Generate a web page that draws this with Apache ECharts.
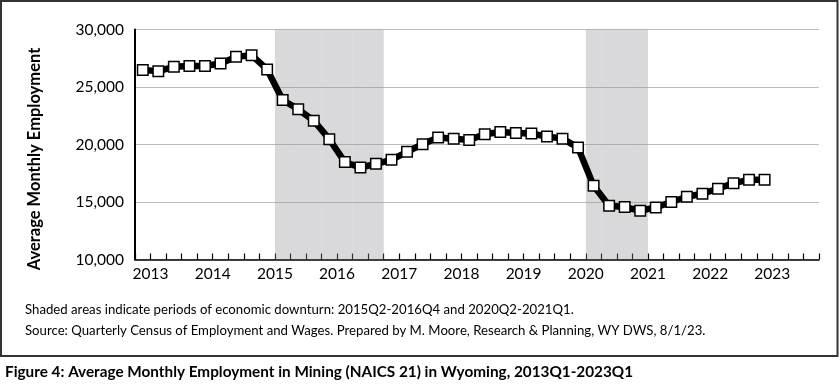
<!DOCTYPE html>
<html>
<head>
<meta charset="utf-8">
<script src="https://cdn.jsdelivr.net/npm/echarts@6/dist/echarts.min.js"></script>
<style>
html,body{margin:0;padding:0;background:#fff;}
#chart{width:840px;height:385px;}
</style>
</head>
<body>
<div id="chart"></div>
<script>
// Quarters 2013Q1 .. 2023Q4 (data through 2023Q1)
const years = [2013,2014,2015,2016,2017,2018,2019,2020,2021,2022,2023];
const quarters = [];
years.forEach(y => { for (let q = 1; q <= 4; q++) quarters.push(y + 'Q' + q); });

const employment = [
  26470, 26380, 26760, 26820, 26820, 27050, 27620, 27770,
  26530, 23870, 23060, 22070, 20460, 18470, 18000, 18320,
  18670, 19360, 20030, 20600, 20510, 20400, 20890, 21090,
  21010, 20950, 20690, 20510, 19730, 16410, 14670, 14560,
  14240, 14530, 15000, 15460, 15720, 16150, 16640, 16930,
  16930
];

const downturnQuarters = [
  '2015Q2','2015Q3','2015Q4','2016Q1','2016Q2','2016Q3','2016Q4',
  '2020Q2','2020Q3','2020Q4','2021Q1'
];

const yMin = 10000, yMax = 30000, yStep = 5000;

const yTitle = 'Average Monthly Employment';
const note1 = 'Shaded areas indicate periods of economic downturn: 2015Q2-2016Q4 and 2020Q2-2021Q1.';
const note2 = 'Source: Quarterly Census of Employment and Wages. Prepared by M. Moore, Research & Planning, WY DWS, 8/1/23.';
const caption = 'Figure 4: Average Monthly Employment in Mining (NAICS 21) in Wyoming, 2013Q1-2023Q1';

const shade = quarters.map(q => downturnQuarters.includes(q) ? yMax : null);

const FONT = 'Lato';
const chart = echarts.init(document.getElementById('chart'), null, {renderer: 'canvas'});
chart.setOption({
  animation: false,
  backgroundColor: '#fff',
  grid: {left: 135, right: 21, top: 29.5, bottom: 125.5, containLabel: false},
  xAxis: {
    type: 'category',
    data: quarters,
    boundaryGap: true,
    axisLine: {lineStyle: {color: '#000', width: 1.5}},
    axisTick: {show: true, inside: true, length: 6, interval: 0, lineStyle: {color: '#000', width: 1.2}},
    axisLabel: {
      interval: 3,
      formatter: v => v.slice(0, 4),
      fontFamily: FONT, fontSize: 15.5, color: '#000',
      margin: 6,
      padding: [0, 0, 0, 15.5]
    },
    splitLine: {show: false}
  },
  yAxis: {
    type: 'value',
    min: yMin, max: yMax, interval: yStep,
    axisLine: {show: true, lineStyle: {color: '#000', width: 2}},
    axisTick: {show: false},
    axisLabel: {
      formatter: v => v.toLocaleString('en-US'),
      fontFamily: FONT, fontSize: 15.5, color: '#000', margin: 11
    },
    splitLine: {lineStyle: {color: '#bcbcbc', width: 1.2}}
  },
  series: [
    {
      type: 'bar',
      data: shade,
      barWidth: '100%',
      barCategoryGap: '0%',
      itemStyle: {color: 'rgba(150,150,156,0.36)'},
      silent: true,
      z: 1
    },
    {
      type: 'line',
      data: employment,
      symbol: 'rect',
      symbolSize: 10.5,
      showAllSymbol: true,
      lineStyle: {color: '#000', width: 6.5},
      itemStyle: {color: '#fff', borderColor: '#000', borderWidth: 1.5},
      z: 3
    }
  ],
  graphic: [
    {type: 'rect', shape: {x: 1, y: 1, width: 836.5, height: 355}, style: {fill: null, stroke: '#333', lineWidth: 2}, silent: true},
    {type: 'text', x: 35, y: 159, rotation: Math.PI / 2,
     style: {text: yTitle, fontFamily: FONT, fontWeight: 'bold', fontSize: 16.5, fill: '#000', align: 'center', verticalAlign: 'middle'}},
    {type: 'text', x: 25, y: 310, style: {text: note1, fontFamily: FONT, fontSize: 13.2, fill: '#000', verticalAlign: 'middle'}},
    {type: 'text', x: 25, y: 331, style: {text: note2, fontFamily: FONT, fontSize: 13.2, fill: '#000', verticalAlign: 'middle'}},
    {type: 'text', x: 5, y: 372, style: {text: caption, fontFamily: FONT, fontWeight: 'bold', fontSize: 15.3, fill: '#000', verticalAlign: 'middle'}}
  ]
});
</script>
</body>
</html>
